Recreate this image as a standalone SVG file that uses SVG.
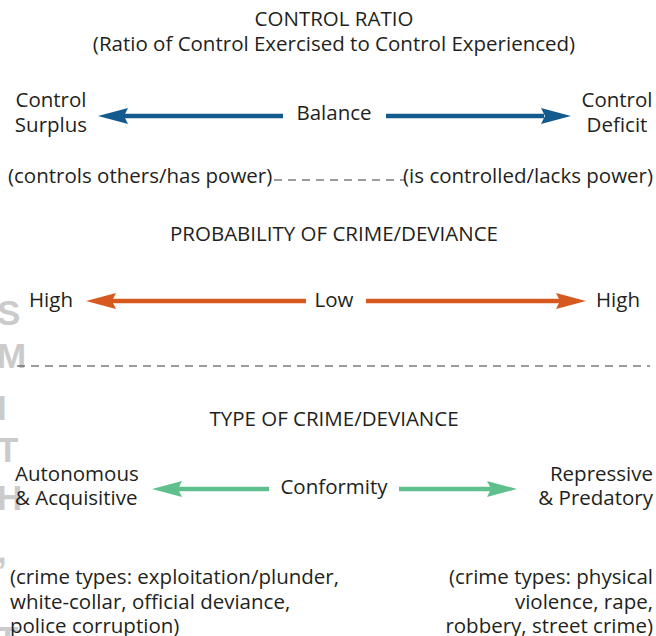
<svg xmlns="http://www.w3.org/2000/svg" width="656" height="636" viewBox="0 0 656 636">
  <style>
    text { font-family: "Open Sans", "Noto Sans", "Liberation Sans", sans-serif; font-size: 20.5px; fill: #231f20; }
    .mid { text-anchor: middle; }
    .end { text-anchor: end; }
    .wm { font-family: "Liberation Sans", Arial, sans-serif; font-weight: bold; font-size: 35px; fill: #cbcbcb; }
    .dash { stroke: #3a3a3a; stroke-width: 1.2; stroke-dasharray: 8 6; fill: none; }
  </style>
  <rect width="656" height="636" fill="#ffffff"/>

  <!-- watermark letters down the left edge -->
  <g id="watermark">
    <text class="wm" x="-3" y="325">S</text>
    <text class="wm" x="-3" y="368">M</text>
    <text class="wm" x="-3" y="420">I</text>
    <text class="wm" x="-3" y="462">T</text>
    <text class="wm" x="-3" y="510">H</text>
    <text class="wm" x="-3" y="563">,</text>
    <text class="wm" x="-3" y="651">T</text>
  </g>

  <!-- section headings -->
  <g id="heading-ratio">
    <text class="mid" x="334" y="26">CONTROL RATIO</text>
    <text class="mid" x="334" y="51">(Ratio of Control Exercised to Control Experienced)</text>
  </g>
  <g id="heading-probability">
    <text class="mid" x="334" y="241">PROBABILITY OF CRIME/DEVIANCE</text>
  </g>
  <g id="heading-type">
    <text class="mid" x="334" y="426">TYPE OF CRIME/DEVIANCE</text>
  </g>

  <!-- control ratio row -->
  <g id="node-surplus">
    <text class="mid" x="51" y="107">Control</text>
    <text class="mid" x="51" y="132">Surplus</text>
  </g>
  <g id="node-balance">
    <text class="mid" x="334" y="120">Balance</text>
  </g>
  <g id="node-deficit">
    <text class="mid" x="617" y="107">Control</text>
    <text class="mid" x="617" y="132">Deficit</text>
  </g>
  <g id="node-has-power">
    <text x="8" y="183">(controls others/has power)</text>
  </g>
  <g id="node-lacks-power">
    <text class="end" x="653" y="183">(is controlled/lacks power)</text>
  </g>

  <!-- probability row -->
  <g id="node-high-left">
    <text x="29" y="307">High</text>
  </g>
  <g id="node-low">
    <text class="mid" x="334" y="307">Low</text>
  </g>
  <g id="node-high-right">
    <text class="end" x="640" y="307">High</text>
  </g>

  <!-- type row -->
  <g id="node-autonomous">
    <text x="15" y="481">Autonomous</text>
    <text x="15" y="505">&amp; Acquisitive</text>
  </g>
  <g id="node-conformity">
    <text class="mid" x="334" y="494">Conformity</text>
  </g>
  <g id="node-repressive">
    <text class="end" x="653" y="481">Repressive</text>
    <text class="end" x="653" y="505">&amp; Predatory</text>
  </g>
  <g id="node-crime-left">
    <text x="10" y="584">(crime types: exploitation/plunder,</text>
    <text x="10" y="609">white-collar, official deviance,</text>
    <text x="10" y="633">police corruption)</text>
  </g>
  <g id="node-crime-right">
    <text class="end" x="653" y="584">(crime types: physical</text>
    <text class="end" x="653" y="609">violence, rape,</text>
    <text class="end" x="653" y="633">robbery, street crime)</text>
  </g>

  <!-- connectors -->
  <g id="connectors">
    <!-- blue: control ratio -->
    <line x1="283" y1="116" x2="124" y2="116" stroke="#135a8e" stroke-width="4.5"/>
    <path d="M98,116 L128,108 L124,116 L128,124 Z" fill="#135a8e"/>
    <line x1="386" y1="116" x2="544" y2="116" stroke="#135a8e" stroke-width="4.5"/>
    <path d="M571,116 L541,108 L545,116 L541,124 Z" fill="#135a8e"/>
    <line class="dash" x1="274" y1="180" x2="405" y2="180"/>

    <!-- orange: probability -->
    <line x1="306" y1="301" x2="112" y2="301" stroke="#d65a1f" stroke-width="4.5"/>
    <path d="M86,301 L116,293 L112,301 L116,309 Z" fill="#d65a1f"/>
    <line x1="366" y1="301" x2="560" y2="301" stroke="#d65a1f" stroke-width="4.5"/>
    <path d="M586,301 L556,293 L560,301 L556,309 Z" fill="#d65a1f"/>

    <line class="dash" x1="17" y1="366" x2="650" y2="366"/>

    <!-- green: type -->
    <line x1="269" y1="489" x2="178" y2="489" stroke="#5fc08d" stroke-width="4.5"/>
    <path d="M152,489 L182,481 L178,489 L182,497 Z" fill="#5fc08d"/>
    <line x1="399" y1="489" x2="491" y2="489" stroke="#5fc08d" stroke-width="4.5"/>
    <path d="M517,489 L487,481 L491,489 L487,497 Z" fill="#5fc08d"/>
  </g>
</svg>
